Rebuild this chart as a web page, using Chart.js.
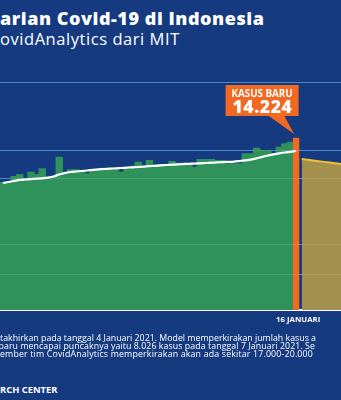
<!DOCTYPE html>
<html><head><meta charset="utf-8">
<script src="https://cdn.jsdelivr.net/npm/chart.js@4.4.1/dist/chart.umd.min.js"></script>
<style>
html,body{margin:0;padding:0;}
body{width:341px;height:400px;overflow:hidden;background:#163A80;position:relative;font-family:"Open Sans",sans-serif;color:#fff;}
.t{position:absolute;white-space:nowrap;line-height:1;}
#title{left:0;top:9px;font-size:18px;font-weight:800;letter-spacing:0.55px;}
#sub{left:0;top:31px;font-size:16.5px;font-weight:500;letter-spacing:0.55px;}
#wrap{position:absolute;left:0;top:60px;width:341px;height:270px;}
#xlab{left:276px;top:316px;font-size:7.8px;font-weight:700;}
.note{left:0;font-size:8.8px;}
#src{left:0;top:385px;font-size:9.4px;font-weight:700;}
</style></head><body>
<div class="t" id="title">arian Covid-19 di Indonesia</div>
<div class="t" id="sub">ovidAnalytics dari MIT</div>
<div id="wrap"><canvas id="c"></canvas></div>
<div class="t" id="xlab">16 JANUARI</div>
<div class="t note" style="top:333.5px">takhirkan pada tanggal 4 Januari 2021. Model memperkirakan jumlah kasus a</div>
<div class="t note" style="top:341.5px;left:-1.5px;letter-spacing:0.07px">baru mencapai puncaknya yaitu 8.026 kasus pada tanggal 7 Januari 2021. Se</div>
<div class="t note" style="top:349.5px;letter-spacing:0.17px">ember tim CovidAnalytics memperkirakan akan ada sekitar 17.000-20.000</div>
<div class="t" id="src">RCH CENTER</div>
<script>
// ---- data ----
const startDate = new Date(2020, 10, 25); // first visible day: 25 Nov 2020
const dailyCases = [10590,10590,11080,11250,10940,11440,11250,11720,11000,11000,
  12680,11440,11640,11640,11500,11300,11660,11660,11770,11770,
  11720,11440,11720,11930,12260,11850,12400,12050,12050,12050,
  12320,12180,12180,12130,11850,12490,12490,12490,12400,12400,
  12130,12130,12130,12960,12960,13420,13230,13230,12960,13500,
  13790,13920];
const highlightValue = 14224;           // 16 Januari
const movingAverage = [10503,10586,10668,10759,10792,10825,10859,10892,10949,11040,
  11206,11330,11413,11454,11495,11537,11586,11628,11661,11686,
  11719,11743,11768,11801,11826,11859,11892,11925,11958,11992,
  12016,12041,12066,12091,12107,12132,12157,12182,12207,12231,
  12248,12273,12322,12372,12430,12537,12661,12777,12868,12951,
  13025,13083,13149];
const projection = [12490,12430,12370,12310,12250,12190,12130,12070];
const gridValues = [2977,5458,10916,13232,18856];
const yMax = 18856;

const highlightIndex = dailyCases.length;
const labels = [];
for (let i = 0; i < highlightIndex + 1 + projection.length; i++) {
  const d = new Date(startDate); d.setDate(d.getDate() + i);
  labels.push(d.getDate() + '/' + (d.getMonth() + 1));
}
const fmt = v => String(v).replace(/\B(?=(\d{3})+(?!\d))/g, '.');

const GREEN = '#2E925A', ORANGE = '#F26A21', OLIVE = '#A38F4E', YELLOW = '#F2C12E';

const callout = {
  id: 'callout',
  afterDatasetsDraw(chart) {
    const {ctx, scales: {x, y}} = chart;
    const px = x.getPixelForValue(highlightIndex);
    const py = y.getPixelForValue(highlightValue);
    const right = px + 2.5, left = right - 73, top = py - 53, bottom = py - 22;
    ctx.save();
    ctx.fillStyle = ORANGE;
    ctx.fillRect(left, top, right - left, bottom - top);
    ctx.beginPath();
    ctx.moveTo(px - 28, bottom - 0.5); ctx.lineTo(px - 12, bottom - 0.5); ctx.lineTo(px - 2, py - 4);
    ctx.closePath(); ctx.fill();
    ctx.fillStyle = '#fff'; ctx.textAlign = 'center'; ctx.textBaseline = 'alphabetic';
    ctx.font = '700 9.8px "Open Sans"';
    ctx.fillText('KASUS BARU', (left + right) / 2, top + 12.3);
    ctx.font = '800 17.5px "Open Sans"';
    if ('letterSpacing' in ctx) ctx.letterSpacing = '0.6px';
    ctx.fillText(fmt(highlightValue), (left + right) / 2 + 0.3, top + 27.7);
    ctx.restore();
  }
};

const gridAxis = (color, z) => ({
  position: 'left', min: 0, max: yMax,
  afterBuildTicks: s => { s.ticks = gridValues.map(v => ({value: v})); },
  ticks: {display: false},
  border: {display: false},
  grid: {color, lineWidth: 1, drawTicks: false, tickLength: 0, z}
});

new Chart(document.getElementById('c'), {
  data: {
    labels,
    datasets: [
      {type: 'line', label: 'Rata-rata', order: 0,
       data: movingAverage.map((v, i) => ({x: i, y: v})),
       borderColor: '#fff', borderWidth: 2.2, pointRadius: 0, tension: 0.2, yAxisID: 'y'},
      {type: 'bar', label: '16 Januari', order: 1, grouped: false,
       data: [{x: highlightIndex, y: highlightValue}],
       backgroundColor: ORANGE, barPercentage: 1, categoryPercentage: 1, borderWidth: 0, yAxisID: 'y'},
      {type: 'line', label: 'Proyeksi', order: 2,
       data: projection.map((v, i) => ({x: highlightIndex + 1 + i, y: v})),
       borderColor: YELLOW, borderWidth: 2, backgroundColor: OLIVE, fill: 'origin', pointRadius: 0, yAxisID: 'y'},
      {type: 'bar', label: 'Kasus harian', order: 3, grouped: false,
       data: dailyCases.map((v, i) => ({x: i, y: v})),
       backgroundColor: GREEN, barPercentage: 1.3, categoryPercentage: 1, borderWidth: 0, yAxisID: 'y'}
    ]
  },
  options: {
    responsive: true, maintainAspectRatio: false, animation: false,
    layout: {padding: {top: 22, bottom: 20, left: 0, right: 0}},
    plugins: {legend: {display: false}, tooltip: {enabled: false}},
    scales: {
      x: {type: 'linear', min: -0.5, max: 59.96, offset: false,
          ticks: {display: false}, grid: {display: false, drawTicks: false, tickLength: 0},
          border: {display: true, color: '#fff', width: 2}},
      y: gridAxis('#2C76C4', 0),
      y2: gridAxis('rgba(255,255,255,0.13)', 1)
    }
  },
  plugins: [callout]
});
</script>
</body></html>
